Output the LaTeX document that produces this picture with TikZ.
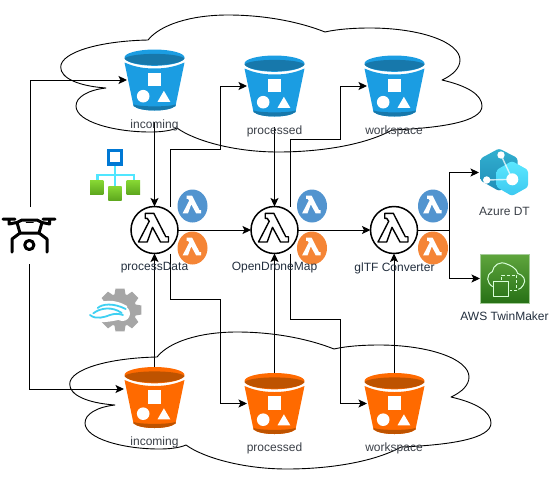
\documentclass[tikz,border=0pt]{standalone}
\usepackage{fontspec}
\setmainfont{Liberation Sans}
\usetikzlibrary{arrows.meta,shapes.geometric}
\definecolor{bluemain}{HTML}{1B9DE2}
\definecolor{bluedark}{HTML}{1778AB}
\definecolor{orangemain}{HTML}{FF6A00}
\definecolor{orangedark}{HTML}{BE5300}
\definecolor{badgeblue}{HTML}{5294CF}
\definecolor{badgeorange}{HTML}{F58536}
\definecolor{labelgrey}{HTML}{3A3F47}
\definecolor{awslabel}{HTML}{232F3E}
\definecolor{azcyan}{HTML}{50E6FF}
\definecolor{azblue}{HTML}{0078D4}
\definecolor{leaftop}{HTML}{86D633}
\definecolor{leafbot}{HTML}{5EA81E}
\definecolor{tmtop}{HTML}{5FA53D}
\definecolor{tmbot}{HTML}{277116}
\definecolor{tmedge}{HTML}{A5CC99}
\definecolor{hexbacktop}{HTML}{32B0D0}
\definecolor{hexbackbot}{HTML}{1F8DB8}
\definecolor{hexfronttop}{HTML}{5CE8FF}
\definecolor{hexfrontbot}{HTML}{3CC8F0}
\definecolor{wave}{HTML}{3FD0F2}
\definecolor{gearcol}{HTML}{A6A6A6}
\tikzset{
  x=1pt,y=-1pt,
  conn/.style={draw=black,line width=0.95pt,-{Stealth[length=8.5pt,width=8pt,inset=2pt]}},
  anchorbox/.style={inner sep=0pt,outer sep=0pt,minimum width=55pt,minimum height=61pt},
  lambdacircle/.style={circle,draw=black,line width=1.5pt,fill=white,minimum size=47pt,inner sep=0pt,outer sep=0pt},
  badge/.style={ellipse,minimum width=30pt,minimum height=33pt,inner sep=0pt,outer sep=0pt},
  lbl/.style={inner sep=0pt,font=\fontsize{12}{14}\selectfont,text=labelgrey},
  awslbl/.style={lbl,text=awslabel},
  cloudline/.style={draw=black,line width=0.9pt},
  pics/bucket/.style 2 args={code={
    \begin{scope}[shift={(0,-30.5)}]
      \fill[#1] (-30,8) .. controls (-30,3.5) and (-16,0) .. (0,0) .. controls (16,0) and (30,3.5) .. (30,8)
        .. controls (30,12.5) and (16,16.3) .. (0,16.3) .. controls (-16,16.3) and (-30,12.5) .. (-30,8) -- cycle;
      \fill[#2] (-30,9) .. controls (-27,6) and (-14,4.4) .. (0,4.4) .. controls (14,4.4) and (27,6) .. (30,9)
        .. controls (28,12.8) and (16,15.6) .. (0,15.6) .. controls (-16,15.6) and (-28,12.8) .. (-30,9) -- cycle;
      \fill[#1] (-30,13) .. controls (-20,17.5) and (-10,19) .. (0,19) .. controls (10,19) and (20,17.5) .. (30,13)
        -- (21,56.5) .. controls (17,59.8) and (8,61) .. (0,61) .. controls (-8,61) and (-17,59.8) .. (-21,56.5) -- cycle;
      \fill[#2] (-21,55) .. controls (-14,57.5) and (14,57.5) .. (21,55) -- (21,56.5) .. controls (17,59.8) and (8,61) .. (0,61)
        .. controls (-8,61) and (-17,59.8) .. (-21,56.5) -- cycle;
      \fill[white] (-7,23.3) rectangle (6.7,36.7);
      \fill[white] (-11.3,46.7) circle (6.3);
      \fill[white] (9.4,41.3) -- (15.8,52.3) -- (3,52.3) -- cycle;
    \end{scope}
  }},
  pics/lambdashape/.style={code={
    \path[#1] (-9.3,-16.7) -- (-0.7,-16.7) -- (11.3,6.7) -- (14,6.7) -- (14,12) -- (6,12) -- (-2,-2.7) -- (-7.3,12) -- (-16,12) -- (-5.3,-8.7) -- (-7.3,-11.7) -- (-9.3,-11.7) -- cycle;
  }},
  pics/cloudshape/.style={code={
    \draw[cloudline,line join=round]
      (148,40) .. controls (100,41) and (61,52) .. (60.7,67) .. controls (60.5,78) and (78,86) .. (106,88)
      .. controls (88,90) and (76,97) .. (76,106) .. controls (76,122) and (115,132) .. (150,132) .. controls (160,132) and (170,131) .. (177,128)
      .. controls (195,141) and (235,152) .. (278,152) .. controls (320,152) and (365,145) .. (392,130)
      .. controls (440,128) and (482,122) .. (482,106) .. controls (482,95) and (468,86) .. (442,80)
      .. controls (453,75) and (460,68) .. (460,60) .. controls (460,42) and (420,28) .. (370,28) .. controls (355,28) and (338,29) .. (325,32)
      .. controls (300,22) and (265,15) .. (228,15) .. controls (190,15) and (160,25) .. (148,40) -- cycle;
  }},
}
\begin{document}
\begin{tikzpicture}
\useasboundingbox (0,0) rectangle (549,477);
% clouds
\pic at (0,0) {cloudshape};
\pic at (9,317) {cloudshape};
% buckets
\node[anchorbox] (inT) at (154.5,80) {};
\node[anchorbox] (prT) at (274.5,86) {};
\node[anchorbox] (wsT) at (394.5,86) {};
\node[anchorbox] (inB) at (154.5,397.5) {};
\node[anchorbox] (prB) at (274.5,403.5) {};
\node[anchorbox] (wsB) at (394.5,403.5) {};
\pic at (inT.center) {bucket={bluemain}{bluedark}};
\pic at (prT.center) {bucket={bluemain}{bluedark}};
\pic at (wsT.center) {bucket={bluemain}{bluedark}};
\pic at (inB.center) {bucket={orangemain}{orangedark}};
\pic at (prB.center) {bucket={orangemain}{orangedark}};
\pic at (wsB.center) {bucket={orangemain}{orangedark}};
% lambda function nodes
\node[lambdacircle] (pd) at (154.5,230) {};
\node[lambdacircle] (odm) at (274.5,230) {};
\node[lambdacircle] (gl) at (394,230) {};
\pic at (pd.center) {lambdashape={draw=black,line width=1.4pt,line join=round}};
\pic at (odm.center) {lambdashape={draw=black,line width=1.4pt,line join=round}};
\pic at (gl.center) {lambdashape={draw=black,line width=1.4pt,line join=round}};
% badges
\foreach \n/\x in {a/192.5,b/312,c/433}{
  \node[badge,fill=badgeblue] (bb\n) at (\x,206) {};
  \node[badge,fill=badgeorange] (bo\n) at (\x,248) {};
  \pic[scale=.62] at (\x,206) {lambdashape={fill=white}};
  \pic[scale=.62] at (\x,248) {lambdashape={fill=white}};
}
% drone
\node[inner sep=0pt,outer sep=0pt,minimum width=60pt,minimum height=57pt] (drone) at (30,235.5) {};
\begin{scope}[line width=3pt,line cap=round,line join=round]
  \draw (3,219) -- (15,219) (9,219) -- (9,224) -- (17,222.5);
  \draw (43,219) -- (55,219) (49.5,219) -- (49.5,224) -- (42,222.5);
  \draw (17,222.5) -- (22,220) -- (37,220) -- (42,222.5) -- (39,233) -- (20,233) -- cycle;
  \draw (20,233) -- (12,239) -- (12,252);
  \draw (39,233) -- (47,239) -- (47,252);
  \draw (29.3,245) circle (4.6);
  \draw[line width=1.8pt] (26.5,222.5) -- (33,222.5);
\end{scope}
% network icon
\draw[azcyan,line width=2.8pt] (115,165) -- (115,187) (97.5,182) -- (97.5,175) -- (134,175) -- (134,182);
\fill[azblue] (106.7,149) rectangle (123.3,165.7);
\fill[white] (110,152.3) rectangle (120,162.3);
\foreach \a/\b in {90/180.7,108.3/186.7,126.7/180.7}{
  \shade[top color=leaftop,bottom color=leafbot] (\a,\b) rectangle ++(13.4,13.4);
}
% gear icon
\foreach \r in {0,45,...,315}{
  \fill[gearcol,rotate around={\r:(120,310)}] (115.5,288.6) -- (124.5,288.6) -- (126,297) -- (114,297) -- cycle;
}
\fill[gearcol] (120,310) circle (16.5);
\fill[white] (122.5,313.5) circle (7.5);
\fill[white] (88,312) .. controls (95,300) and (112,297) .. (127,306) -- (127,318) .. controls (110,322) and (95,325) .. (88,318) -- cycle;
\draw[wave,line width=1.8pt,line cap=round] (97.7,308) .. controls (102,304) and (113,302.5) .. (125.7,309);
\draw[wave,line width=1.8pt,line cap=round] (93.3,313.3) .. controls (100,308) and (112,306) .. (121.7,313);
\draw[wave,line width=1.8pt,line cap=round] (90,315) .. controls (96,320) and (105,317) .. (110,315) .. controls (114,313.5) and (119,313.5) .. (123,315);
% Azure DT icon
\node[inner sep=0pt,outer sep=0pt,minimum width=50pt,minimum height=50pt] (az) at (504,172.5) {};
\shade[top color=hexbacktop,bottom color=hexbackbot,rounded corners=2.5pt] (499,148.5) -- (517.5,158) -- (517.5,182) -- (499,191) -- (480.5,180.5) -- (480.5,158.5) -- cycle;
\shade[top color=hexfronttop,bottom color=hexfrontbot,rounded corners=2.5pt] (512,161) -- (528,170) -- (528,187) -- (512,196) -- (496.5,187) -- (496.5,170) -- cycle;
\draw[white,opacity=.75,line width=1.4pt] (501,155) -- (512.3,179.3) -- (486.7,180);
\fill[white] (501,155) circle (3.7) (486.7,180) circle (3.7) (512.3,179.3) circle (6);
% TwinMaker icon
\node[inner sep=0pt,outer sep=0pt,minimum width=49pt,minimum height=49pt] (tm) at (504.5,278.5) {};
\shade[top color=tmtop,bottom color=tmbot] (480,254) rectangle (529,303);
\draw[tmedge,line width=.8pt] (480,254) rectangle (529,303);
\begin{scope}[draw=white!85!green,line width=1pt,line join=round]
  \draw (492.7,286.7) .. controls (486.7,283) and (485.5,275) .. (492.3,271.7) .. controls (493.3,265) and (500,260.7) .. (506.7,264) .. controls (510,265) and (516.7,268.3) .. (517.7,273.3) .. controls (523.3,275) and (526.7,280) .. (523.3,285) .. controls (522,287.5) and (520,289) .. (518.3,289.3);
  \draw (493.3,281.7) rectangle (508.3,296.7);
  \draw[dash pattern=on 3pt off 2pt] (501.7,280) -- (501.7,275) -- (516.7,275) -- (516.7,290.7) -- (510,290.7);
\end{scope}
% connectors
\draw[conn] ([xshift=.5pt]drone.north) |- (inT.west);
\coordinate (inBentry) at (124,389);
\draw[conn] ([xshift=-.5pt]drone.south) |- (inBentry);
\draw[conn] ([yshift=3pt]inT.south |- 0,125) -- (pd.north);
\draw[conn] (inB.north) -- (pd.south);
\draw[conn] ([xshift=16pt]pd.north) |- (220.5,149) |- (prT.west);
\draw[conn] ([xshift=16pt]pd.south) |- (220.5,299) |- (prB.west);
\draw[conn] (pd.east) -- (odm.west);
\draw[conn] ([xshift=16pt]odm.north) |- (340,139.5) |- (wsT.west);
\draw[conn] ([xshift=16pt]odm.south) |- (340,319) |- (wsB.west);
\draw[conn] ([yshift=4pt]prT.south |- 0,131) -- (odm.north);
\draw[conn] (prB.north) -- (odm.south);
\draw[conn] (odm.east) -- (gl.west);
\draw[conn] (wsB.north -| gl.south) -- (gl.south);
\draw[conn] (gl.east) -- (449.5,230) |- (az.west);
\draw[conn] (gl.east) -- (449.5,230) |- (tm.west);
% labels
\node[lbl] (lInT) at (154.5,125) {incoming};
\node[lbl] (lPrT) at (274.5,131) {processed};
\node[lbl] (lWsT) at (394,131) {workspace};
\node[lbl] (lInB) at (154.5,442) {incoming};
\node[lbl] (lPrB) at (274.5,448) {processed};
\node[lbl] (lWsB) at (394,448) {workspace};
\node[awslbl] (lPd) at (154.5,268) {processData};
\node[awslbl] (lOdm) at (274.5,268) {OpenDroneMap};
\node[awslbl] (lGl) at (394.5,268) {glTF Converter};
\node[lbl] (lAz) at (504.5,211) {Azure DT};
\node[awslbl] (lTm) at (504.5,316) {AWS TwinMaker};
\end{tikzpicture}
\end{document}
